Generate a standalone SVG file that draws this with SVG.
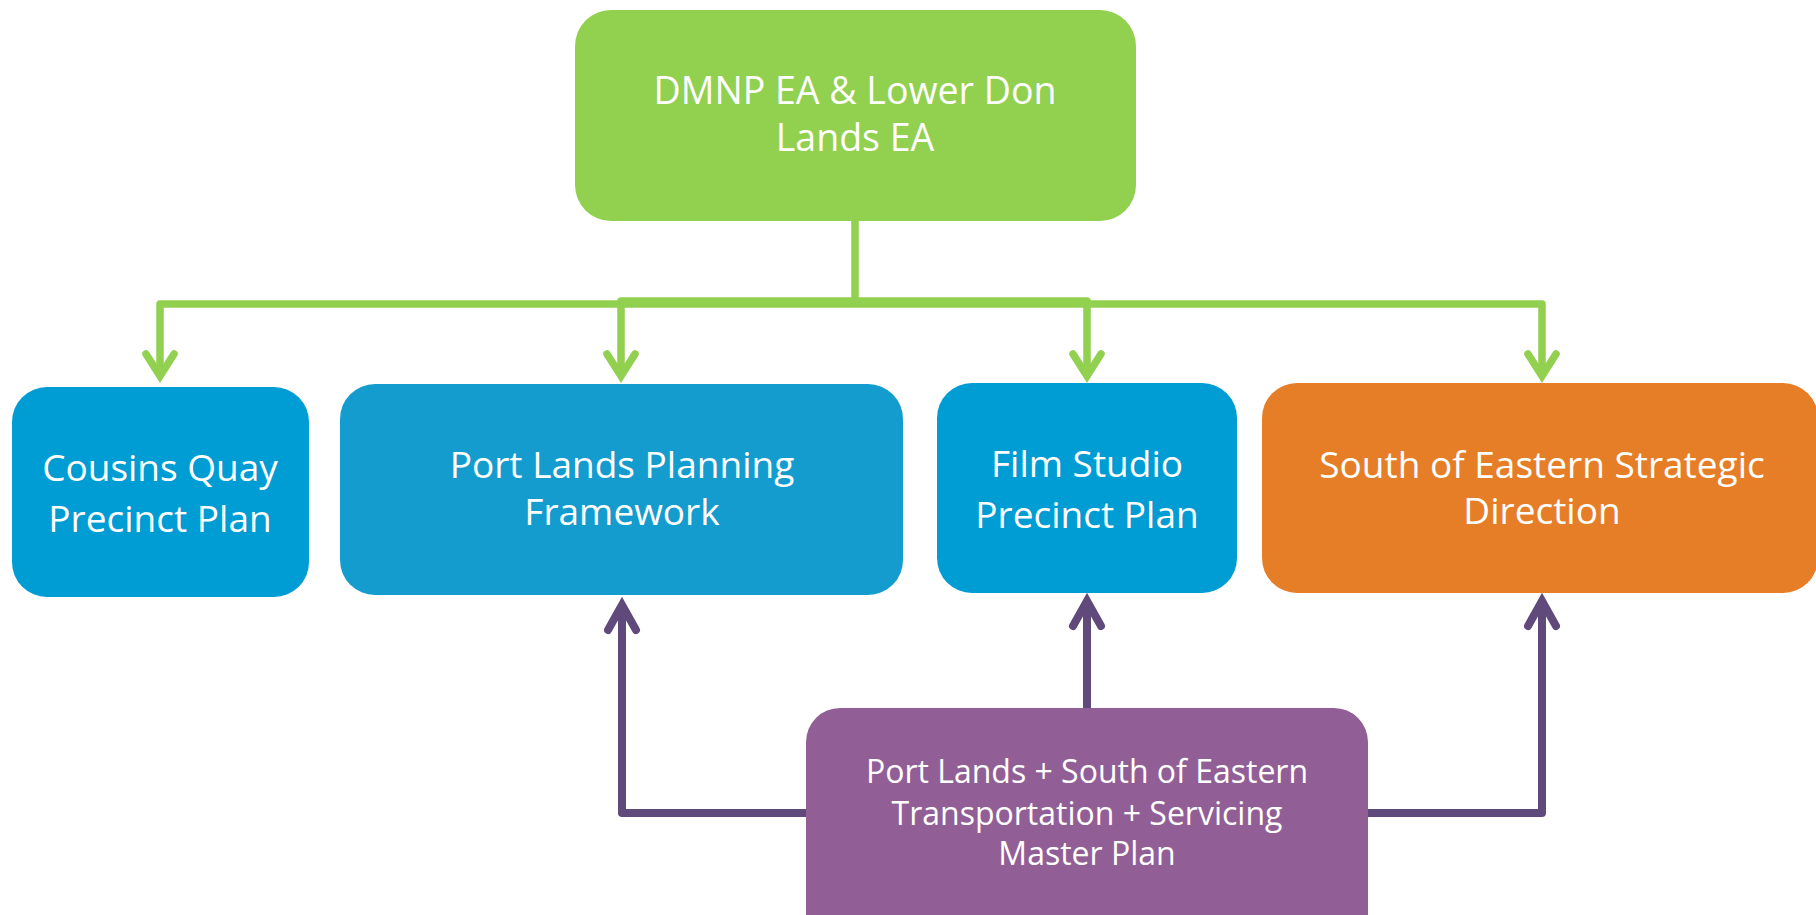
<svg xmlns="http://www.w3.org/2000/svg" width="1816" height="915" viewBox="0 0 1816 915">
<defs>
<style>
.t{font-family:"Open Sans","Liberation Sans",Arial,sans-serif;fill:#ffffff;text-anchor:middle}
.big{font-size:37px}
.top{font-size:37.5px}
.small{font-size:32px}
.g{fill:none;stroke:#92D050;stroke-width:7.5;stroke-linejoin:round}
.p{fill:none;stroke:#604A7B;stroke-width:8;stroke-linejoin:round}
</style>
<marker id="ag" markerUnits="userSpaceOnUse" orient="auto" refX="0" refY="0" markerWidth="60" markerHeight="60" viewBox="-40 -30 60 60" overflow="visible">
<path d="M -22 -14 L 0 0 L -22 14" fill="none" stroke="#92D050" stroke-width="7.5" stroke-linecap="round" stroke-linejoin="miter"/>
</marker>
<marker id="ap" markerUnits="userSpaceOnUse" orient="auto" refX="0" refY="0" markerWidth="60" markerHeight="60" viewBox="-40 -30 60 60" overflow="visible">
<path d="M -25 -14 L 0 0 L -25 14" fill="none" stroke="#604A7B" stroke-width="8" stroke-linecap="round" stroke-linejoin="miter"/>
</marker>
</defs>
<rect width="1816" height="915" fill="#ffffff"/>
<g id="connectors">
<path class="g" d="M 855 220 V 304"/>
<path class="g" d="M 855 304 H 160 V 376" marker-end="url(#ag)"/>
<path class="g" d="M 855 301 H 621 V 376" marker-end="url(#ag)"/>
<path class="g" d="M 855 301 H 1087 V 376" marker-end="url(#ag)"/>
<path class="g" d="M 855 304 H 1542 V 376" marker-end="url(#ag)"/>
<path class="p" d="M 806 813 H 622 V 605" marker-end="url(#ap)"/>
<path class="p" d="M 1087 708 V 601" marker-end="url(#ap)"/>
<path class="p" d="M 1368 813 H 1542 V 601" marker-end="url(#ap)"/>
</g>
<g id="node-dmnp">
<rect x="575" y="10" width="561" height="211" rx="36" ry="36" fill="#92D050"/>
<text class="t top" x="855" y="104">DMNP EA &amp; Lower Don</text>
<text class="t top" x="855" y="151">Lands EA</text>
</g>
<g id="node-cousins">
<rect x="12" y="387" width="297" height="210" rx="35" ry="35" fill="#009CD4"/>
<text class="t big" x="160" y="481">Cousins Quay</text>
<text class="t big" x="160" y="532">Precinct Plan</text>
</g>
<g id="node-portlands">
<rect x="340" y="384" width="563" height="211" rx="35" ry="35" fill="#159CCE"/>
<text class="t big" x="622" y="478">Port Lands Planning</text>
<text class="t big" x="622" y="525">Framework</text>
</g>
<g id="node-film">
<rect x="937" y="383" width="300" height="210" rx="35" ry="35" fill="#009CD4"/>
<text class="t big" x="1087" y="477">Film Studio</text>
<text class="t big" x="1087" y="528">Precinct Plan</text>
</g>
<g id="node-south">
<rect x="1262" y="383" width="556" height="210" rx="35" ry="35" fill="#E67E27"/>
<text class="t big" x="1542" y="478">South of Eastern Strategic</text>
<text class="t big" x="1542" y="524">Direction</text>
</g>
<g id="node-transport">
<rect x="806" y="708" width="562" height="240" rx="34" ry="34" fill="#915F96"/>
<text class="t small" x="1087" y="783">Port Lands + South of Eastern</text>
<text class="t small" x="1087" y="825">Transportation + Servicing</text>
<text class="t small" x="1087" y="865">Master Plan</text>
</g>
</svg>
